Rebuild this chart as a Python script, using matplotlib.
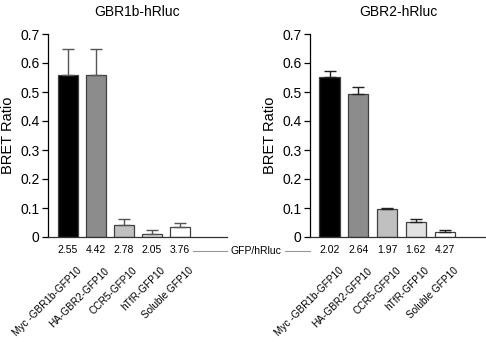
import matplotlib
matplotlib.use('Agg')
import matplotlib.pyplot as plt
import matplotlib.transforms as mtransforms
from matplotlib.lines import Line2D

plt.rcParams['font.family'] = ['Liberation Sans', 'DejaVu Sans']

# data
constructs = ['Myc -GBR1b-GFP10', 'HA-GBR2-GFP10', 'CCR5-GFP10', 'hTfR-GFP10', 'Soluble GFP10']
bar_colors = ['#000000', '#8c8c8c', '#c0c0c0', '#e2e2e2', '#ffffff']

gbr1_bret = [0.560, 0.557, 0.040, 0.011, 0.035]
gbr1_err = [0.090, 0.093, 0.022, 0.013, 0.013]
gbr1_ratio = ['2.55', '4.42', '2.78', '2.05', '3.76']

gbr2_bret = [0.551, 0.493, 0.095, 0.052, 0.016]
gbr2_err = [0.021, 0.024, 0.005, 0.009, 0.008]
gbr2_ratio = ['2.02', '2.64', '1.97', '1.62', '4.27']

yticks = [0, 0.1, 0.2, 0.3, 0.4, 0.5, 0.6, 0.7]
ytick_labels = ['0', '0.1', '0.2', '0.3', '0.4', '0.5', '0.6', '0.7']


def draw_panel(ax, title, bret, err, ratios, errcolor, xlim):
    x = list(range(len(bret)))
    ax.bar(x, bret, width=0.7, color=bar_colors, edgecolor='#404040', linewidth=0.9,
           yerr=[[0] * len(err), err], error_kw=dict(ecolor=errcolor, elinewidth=1.0,
                                                   capsize=4.5, capthick=1.0), zorder=2)
    ax.set_xlim(*xlim)
    ax.set_ylim(0, 0.7)
    ax.set_yticks(yticks)
    ax.set_yticklabels(ytick_labels, fontsize=10)
    ax.set_xticks([])
    for s in ['top', 'right']:
        ax.spines[s].set_visible(False)
    ax.spines['left'].set_linewidth(0.9)
    ax.spines['bottom'].set_linewidth(0.9)
    ax.spines['bottom'].set_color('#333333')
    ax.tick_params(axis='y', length=4, width=0.9, pad=2)
    ax.set_ylabel('BRET Ratio', fontsize=10.5, labelpad=4)
    ax.set_title(title, fontsize=10, pad=13)

    trans = mtransforms.blended_transform_factory(ax.transData, ax.transAxes)
    for i, r in enumerate(ratios):
        ax.text(i, -0.065, r, transform=trans, ha='center', va='center', fontsize=7.5)
    for i, lab in enumerate(constructs):
        ax.text(i + 0.3, -0.14, lab, transform=trans, rotation=45, ha='right', va='top',
                rotation_mode='anchor', fontsize=7.2)


fig = plt.figure(figsize=(4.86, 3.42), dpi=100)
ax1 = fig.add_axes([48 / 486, 1 - 237 / 342, (227 - 48) / 486, 203 / 342])
ax2 = fig.add_axes([310 / 486, 1 - 237 / 342, (486 - 310) / 486, 203 / 342])

draw_panel(ax1, 'GBR1b-hRluc', gbr1_bret, gbr1_err, gbr1_ratio, '#555555', (-0.71, 5.68))
draw_panel(ax2, 'GBR2-hRluc', gbr2_bret, gbr2_err, gbr2_ratio, '#222222', (-0.68, 5.44))

# GFP/hRluc connector between panels
yrow = 1 - 251 / 342
fig.text(256 / 486, yrow, 'GFP/hRluc', ha='center', va='center', fontsize=7.5)
fig.add_artist(Line2D([193 / 486, 227 / 486], [yrow, yrow], color='#999999', lw=0.8))
fig.add_artist(Line2D([285 / 486, 310 / 486], [yrow, yrow], color='#999999', lw=0.8))

fig.savefig('out.png', dpi=100, facecolor='white')
